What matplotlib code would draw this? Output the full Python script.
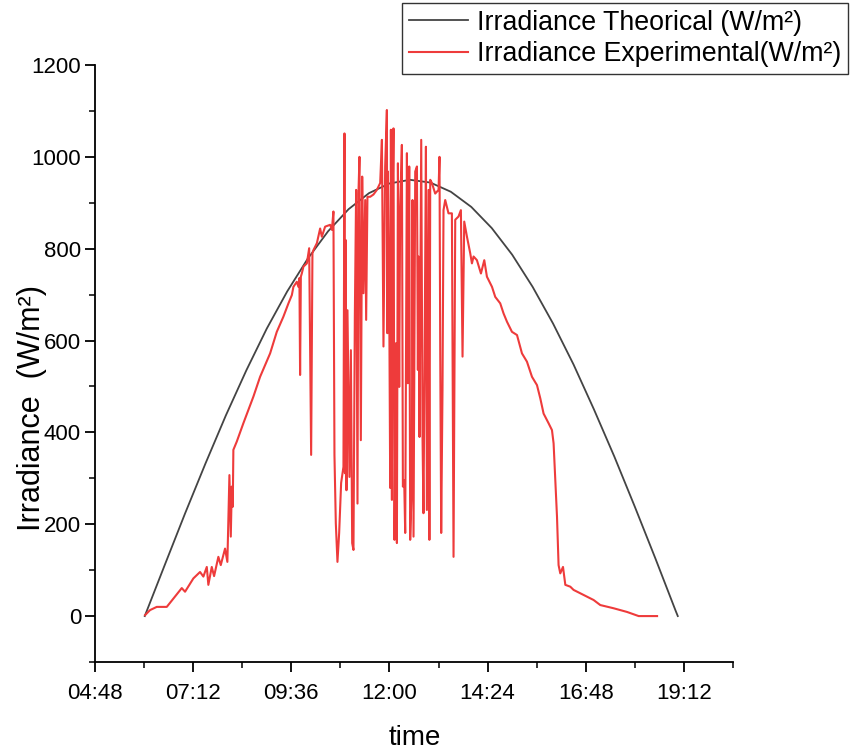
import matplotlib
matplotlib.use("Agg")
import matplotlib.pyplot as plt
from matplotlib import font_manager
from matplotlib.ticker import FixedLocator, MultipleLocator, FuncFormatter

# ---- data (time in minutes since midnight) ----
theo_time = [361, 390, 420, 450, 480, 510, 540, 570, 600, 630, 660, 690, 720, 750,
             780, 810, 840, 870, 900, 930, 960, 990, 1020, 1050, 1080, 1110, 1140, 1143]
theo_val = [0, 110, 223, 332, 437, 535, 626, 707, 778, 838, 886, 921, 942, 950,
            944, 924, 891, 845, 787, 717, 637, 548, 450, 347, 238, 126, 11, 0]

exp_time = [361.4, 368.7, 378.6, 393.3, 402.9, 415.3, 420.1, 432.3, 442.1, 447.0,
            452.0, 454.3, 459.3, 462.7, 469.0, 472.5, 478.8, 482.2, 485.2, 487.2,
            488.7, 490.1, 491.0, 496.0, 505.7, 520.4, 530.2, 544.9, 554.7, 564.4,
            571.8, 576.8, 579.1, 584.1, 586.4, 587.9, 588.9, 590.0, 591.4, 593.8,
            598.8, 602.2, 605.1, 607.0, 608.5, 613.5, 618.3, 620.8, 625.6, 633.0,
            635.5, 637.8, 639.3, 641.3, 643.7, 646.2, 649.1, 652.5, 654.0, 654.7,
            655.7, 656.9, 658.4, 661.3, 663.4, 665.3, 667.2, 669.2, 671.1, 673.1,
            674.5, 676.0, 678.0, 680.0, 681.9, 684.4, 685.8, 687.7, 691.7, 696.5,
            701.5, 706.4, 708.9, 711.2, 713.7, 716.2, 716.9, 717.7, 719.6, 721.1,
            722.1, 723.6, 724.4, 725.9, 727.4, 729.4, 730.9, 732.4, 734.3, 735.7,
            738.2, 739.7, 741.6, 743.1, 745.6, 747.0, 749.0, 750.4, 752.9, 753.8,
            755.3, 757.8, 760.3, 761.7, 762.6, 764.1, 766.6, 768.5, 769.9, 771.4,
            773.5, 774.9, 777.3, 778.6, 779.8, 782.3, 787.1, 792.0, 793.4, 794.5,
            795.9, 797.8, 799.3, 801.8, 806.6, 811.6, 814.0, 816.5, 821.3, 824.8,
            827.2, 829.7, 833.7, 838.5, 841.0, 843.4, 848.3, 854.2, 859.1, 863.0,
            870.4, 875.2, 882.5, 887.4, 892.4, 899.7, 907.1, 914.4, 921.7, 929.1,
            936.4, 941.3, 946.1, 953.4, 958.4, 960.8, 963.3, 965.8, 968.1, 970.6,
            974.6, 978.0, 985.3, 990.1, 1004.8, 1019.5, 1029.3, 1048.9, 1068.5, 1085.6,
            1112.6]
exp_val = [2, 13, 20, 20, 38, 61, 53, 82, 96, 86,
           107, 68, 107, 87, 129, 111, 147, 118, 307, 173,
           282, 238, 362, 380, 420, 478, 521, 572, 619, 652,
           681, 699, 717, 728, 717, 736, 525, 739, 746, 761,
           768, 801, 351, 790, 797, 812, 844, 826, 848, 852,
           841, 881, 351, 202, 118, 181, 290, 325, 1051, 311,
           819, 274, 666, 303, 579, 159, 144, 652, 928, 245,
           920, 1000, 383, 957, 703, 906, 645, 913, 913, 918,
           928, 943, 1037, 587, 979, 1102, 616, 968, 703, 279,
           1059, 253, 870, 1062, 166, 594, 159, 986, 499, 884,
           1026, 282, 296, 181, 1008, 507, 979, 166, 296, 906,
           173, 968, 979, 536, 783, 390, 1037, 390, 224, 529,
           1022, 231, 928, 166, 950, 943, 920, 928, 1000, 573,
           181, 492, 884, 906, 877, 877, 129, 863, 870, 884,
           565, 859, 826, 790, 768, 783, 775, 746, 775, 739,
           717, 695, 681, 659, 641, 619, 612, 572, 554, 521,
           503, 474, 441, 420, 405, 376, 296, 216, 111, 93,
           107, 68, 64, 57, 46, 35, 24, 17, 9, 0,
           0]

x_ticks = [288, 432, 576, 720, 864, 1008, 1152]
y_ticks = [0, 200, 400, 600, 800, 1000, 1200]
label_theo = "Irradiance Theorical (W/m²)"
label_exp = "Irradiance Experimental(W/m²)"

plt.rcParams['font.family'] = ['Liberation Sans', 'DejaVu Sans']

# ---- figure ----
fig = plt.figure(figsize=(8.51, 7.54), dpi=100)
ax = fig.add_axes([95/851, 1-662/754, (733-95)/851, (662-65)/754])

ax.plot(theo_time, theo_val, color='#444444', lw=1.3, label=label_theo)
ax.plot(exp_time, exp_val, color='#EE3B3B', lw=1.5, label=label_exp)

ax.set_xlim(288, 1224)
ax.set_ylim(-100, 1200)

ax.spines['top'].set_visible(False)
ax.spines['right'].set_visible(False)
for s in ('left', 'bottom'):
    ax.spines[s].set_linewidth(1.3)

ax.xaxis.set_major_locator(FixedLocator(x_ticks))
ax.xaxis.set_minor_locator(MultipleLocator(72))
ax.xaxis.set_major_formatter(FuncFormatter(lambda m, p: f"{int(m // 60):02d}:{int(round(m % 60)):02d}"))
ax.yaxis.set_major_locator(FixedLocator(y_ticks))
ax.yaxis.set_minor_locator(MultipleLocator(100))

ax.tick_params(which='major', direction='out', length=7, width=1.3, labelsize=16)
ax.tick_params(axis='x', which='major', pad=8)
ax.tick_params(axis='y', which='major', pad=3)
ax.tick_params(which='minor', direction='out', length=4, width=1.1)

ax.set_xlabel("time", fontsize=20)
ax.xaxis.set_label_coords((415 - 95) / 638, (662 - 725) / 597)
ax.set_ylabel("Irradiance  (W/m²)", fontsize=22)
ax.yaxis.set_label_coords((47 - 95) / 638, (662 - 408) / 597)

leg = fig.legend(loc='upper right', bbox_to_anchor=(848/851, 1-3/754),
                 bbox_transform=fig.transFigure, fontsize=19.3, frameon=True,
                 fancybox=False, edgecolor='black', handlelength=2.2,
                 borderaxespad=0, borderpad=0.25, labelspacing=0.2, handletextpad=0.35)
leg.get_frame().set_linewidth(1.0)

fig.savefig("out.png", dpi=100)
